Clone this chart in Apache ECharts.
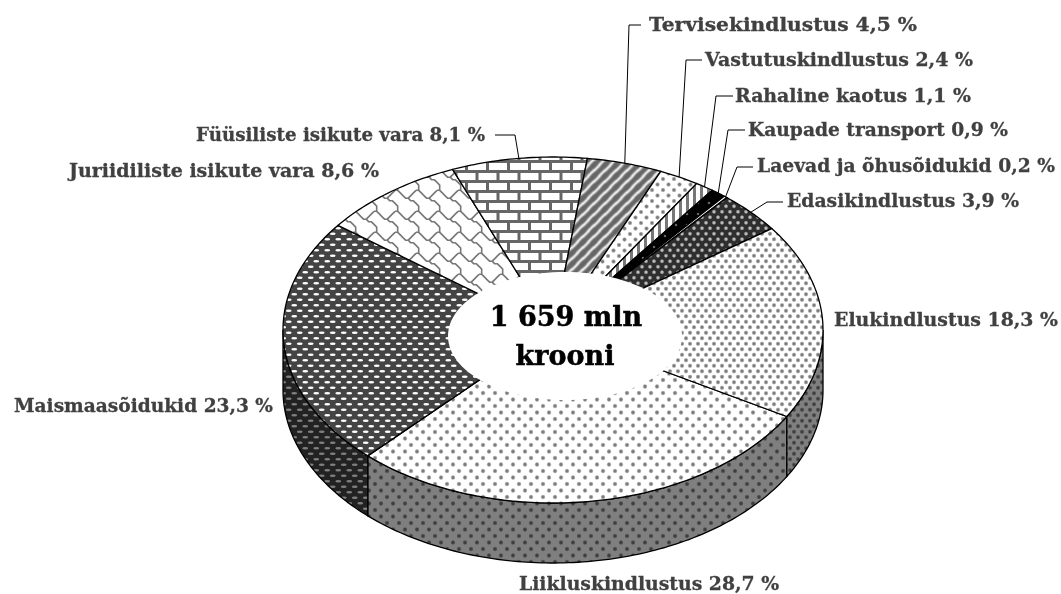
<!DOCTYPE html>
<html><head><meta charset="utf-8">
<style>html,body{margin:0;padding:0;background:#fff}#c{width:1061px;height:594px}</style>
<script src="https://cdn.jsdelivr.net/npm/echarts@6/dist/echarts.min.js"></script>
</head><body><div id="c"></div>
<script>
// Data, clockwise from the front-right slice boundary
const categories = ['Liikluskindlustus','Maismaasõidukid','Juriidiliste isikute vara','Füüsiliste isikute vara','Tervisekindlustus','Vastutuskindlustus','Rahaline kaotus','Kaupade transport','Laevad ja õhusõidukid','Edasikindlustus','Elukindlustus'];
const shares = [28.7,23.3,8.6,8.1,4.5,2.4,1.1,0.9,0.2,3.9,18.3];
const centreLines = ['1 659 mln','krooni'];

// Layout (separate from data)
const C = {cx:553, cy:330, rx:270, ry:173, depth:60, start:30};
const HOLE = {cx:565, cy:336, rx:117, ry:64};
const LABEL_FONT='bold 18.5px "DejaVu Serif"';
const LABELS = [
 {x:519,x2:779,y:585},{x:14,x2:273,y:407},{x:69,x2:379,y:172},
 {x:196,x2:485,y:136,lead:[[495,135],[515,135]]},
 {x:649,x2:917,y:26,lead:[[641,25],[629,25]]},
 {x:705,x2:973,y:61,lead:[[702,60],[686,60]]},
 {x:735,x2:971,y:97,lead:[[733,96],[716,96]]},
 {x:748,x2:1008,y:131,lead:[[745,130],[728,130]]},
 {x:757,x2:1055,y:167,lead:[[753,167],[737,167]]},
 {x:787,x2:1019,y:202,lead:[[783,202],[767,202]]},
 {x:834,x2:1058,y:321}
];
const measureCtx=document.createElement('canvas').getContext('2d');

function makeTile(w,h,bg,draw,dark){
  const c=document.createElement('canvas');c.width=w;c.height=h;
  const g=c.getContext('2d');
  g.fillStyle=bg;g.fillRect(0,0,w,h);
  for(const ox of [-w,0,w])for(const oy of [-h,0,h]){g.save();g.translate(ox,oy);draw(g);g.restore();}
  if(dark){g.fillStyle='rgba(0,0,0,'+dark+')';g.fillRect(0,0,w,h);}
  return {image:c,repeat:'repeat'};
}
function dots(list,r,col,rgb){
  return g=>{for(const [x,y] of list){
    const gr=g.createRadialGradient(x,y,0,x,y,r);
    gr.addColorStop(0,col);gr.addColorStop(.4,col);gr.addColorStop(1,'rgba('+rgb+',0)');
    g.fillStyle=gr;g.beginPath();g.arc(x,y,r,0,7);g.fill();}};
}
function ovals(list,rw,rh,col){
  return g=>{g.filter='blur(0.6px)';g.fillStyle=col;for(const [x,y] of list){g.beginPath();g.ellipse(x,y,rw,rh,0,0,7);g.fill();}g.filter='none';};
}
const GRAY='rgb(125,125,125)',G='125,125,125';
const U=21/8;
const shingleA=[[6.5,.5],[7.5,.5],[8.5,1.5],[9.5,2.5],[10.5,3.5],[11.5,3.5],[12.5,4.5],[13.5,4.5],[14.5,5.5],[15.5,6.5],[15.5,8.5]];
const shingleB=[[6.5,.5],[5.5,1.5],[4.5,2.5],[3.5,3.5]];
const fillMakers=[
 d=>makeTile(12,13,'#fff',dots([[3,3],[9,9.5]],2.7,GRAY,G),d),
 d=>makeTile(11,11,'#444',ovals([[2.75,2.75],[8.25,8.25]],2.9,1.3,'#fff'),d),
 d=>makeTile(21,21,'#fff',g=>{g.filter='blur(0.6px)';g.strokeStyle='#777';g.lineWidth=1.6;g.lineJoin='round';
    for(const p of [shingleA,shingleB]){g.beginPath();p.forEach(([x,y],k)=>k?g.lineTo(x*U,y*U):g.moveTo(x*U,y*U));g.stroke();}
    g.filter='none';},d),
 d=>makeTile(21,20,'#fff',g=>{g.filter='blur(0.6px)';g.fillStyle='#666';g.fillRect(0,0,21,3);g.fillRect(0,10,21,3);g.fillRect(3,0,3,10);g.fillRect(13.5,10,3,10);g.filter='none';},d),
 d=>makeTile(11,11,'#fff',g=>{g.filter='blur(0.9px)';g.strokeStyle='#666';g.lineWidth=3.2;for(const s of [-11,0,11]){g.beginPath();g.moveTo(s-2,13);g.lineTo(s+13,-2);g.stroke();}g.filter='none';},d),
 d=>makeTile(11,11,'#fff',dots([[3,3],[8.5,8.5]],2.6,GRAY,G),d),
 d=>makeTile(7,7,'#fff',g=>{g.filter='blur(0.7px)';g.fillStyle='#777';g.fillRect(0,0,3,7);g.filter='none';},d),
 d=>makeTile(11,11,'#000',dots([[5,5]],1.8,'#666','102,102,102'),d),
 d=>makeTile(4,4,'#fff',()=>{},d),
 d=>makeTile(8,11,'#2e2e2e',dots([[2,2.75],[6,8.25]],2.4,'#bbb','187,187,187'),d),
 d=>makeTile(8,11,'#fff',dots([[2,2.75],[6,8.25]],2.6,GRAY,G),d)
];
const topFills=fillMakers.map(f=>f(0));
const sideFills=fillMakers.map(f=>f(.5));

const total=shares.reduce((a,b)=>a+b,0);
const startAngles=[];shares.reduce((acc,v,i)=>{startAngles[i]=acc;return acc+v/total*360;},C.start);
const pt=(deg,dy=0)=>{const t=deg*Math.PI/180;return [C.cx+C.rx*Math.cos(t),C.cy+C.ry*Math.sin(t)+dy];};
function arc(a0,a1,dy){const n=Math.max(2,Math.ceil(Math.abs(a1-a0)));const out=[];for(let i=0;i<=n;i++)out.push(pt(a0+(a1-a0)*i/n,dy));return out;}
const LINE={stroke:'#000',lineWidth:1.3};

function renderItem(params,api){
  const i=params.dataIndex, a0=startAngles[i], a1=a0+api.value(1)/total*360;
  const kids=[];
  for(const off of [0,-360]){
    const s=Math.max(a0+off,0), e=Math.min(a1+off,180);
    if(e>s){
      kids.push({type:'polygon',shape:{points:arc(s,e,0).concat(arc(e,s,C.depth))},style:Object.assign({fill:sideFills[i]},LINE)});
    }
  }
  kids.push({type:'polygon',shape:{points:[[C.cx,C.cy]].concat(arc(a0,a1,0))},style:Object.assign({fill:topFills[i]},LINE)});
  const lab=LABELS[i];
  if(lab.lead){
    kids.push({type:'polyline',z2:5,shape:{points:lab.lead.concat([pt((a0+a1)/2)])},style:{stroke:'#000',lineWidth:1,fill:null}});
  }
  const text=categories[i]+' '+String(api.value(1)).replace('.',',')+' %';
  measureCtx.font=LABEL_FONT;
  kids.push({type:'text',z2:6,x:lab.x,y:lab.y,scaleX:(lab.x2-lab.x)/measureCtx.measureText(text).width,style:{text,fill:'#404040',stroke:'#404040',lineWidth:.3,font:LABEL_FONT,align:'left',verticalAlign:'middle'}});
  return {type:'group',children:kids};
}
const chart=echarts.init(document.getElementById('c'),null,{renderer:'canvas'});
chart.setOption({
  animation:false,backgroundColor:'#fff',
  series:[{type:'custom',coordinateSystem:'none',silent:true,clip:false,renderItem,data:shares.map((v,i)=>[i,v])}],
  graphic:[
    {type:'ellipse',z:20,silent:true,shape:HOLE,style:{fill:'#fff'}},
    {type:'text',z:21,silent:true,x:566,y:319,style:{text:centreLines[0],fill:'#000',stroke:'#000',lineWidth:.5,font:'bold 27px "DejaVu Serif"',align:'center',verticalAlign:'middle'}},
    {type:'text',z:21,silent:true,x:565,y:358,style:{text:centreLines[1],fill:'#000',stroke:'#000',lineWidth:.5,font:'bold 27px "DejaVu Serif"',align:'center',verticalAlign:'middle'}}
  ]
});
</script></body></html>
